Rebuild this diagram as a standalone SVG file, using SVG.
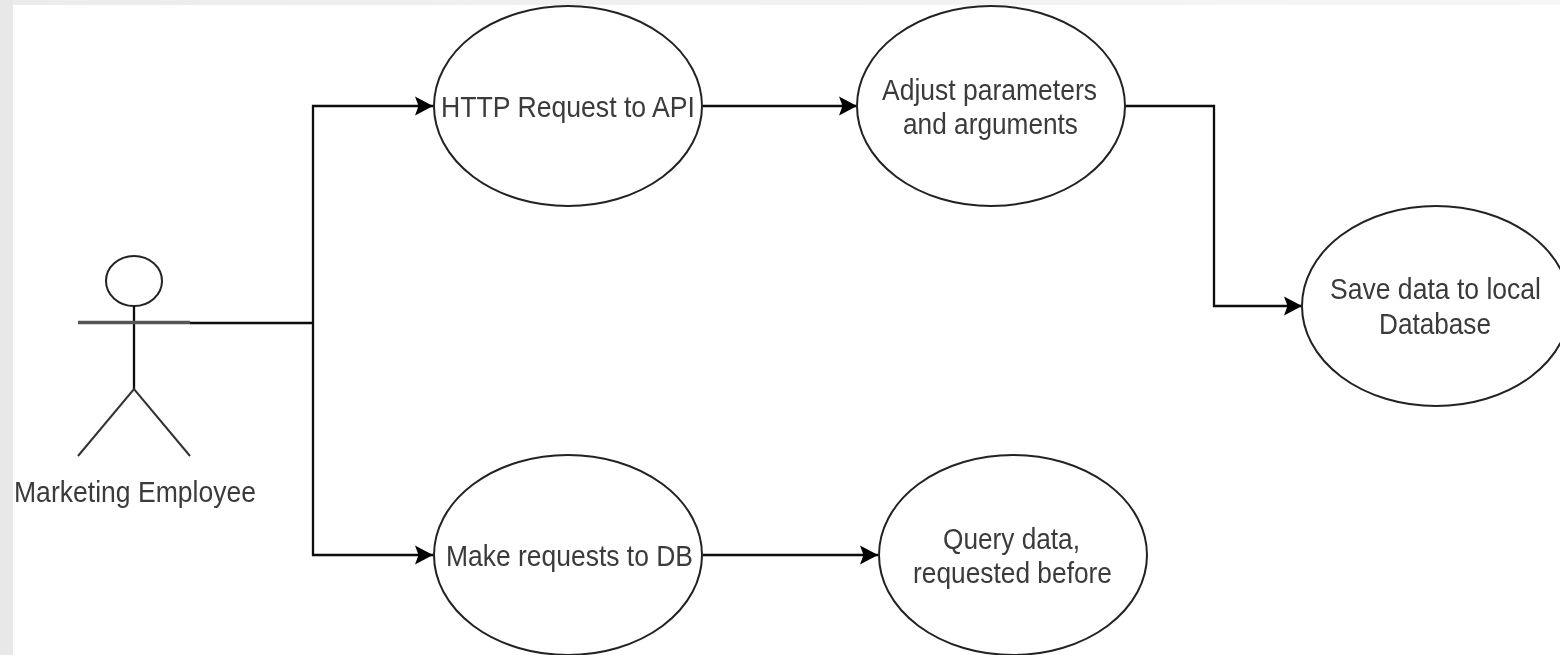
<svg xmlns="http://www.w3.org/2000/svg" width="1560" height="655" viewBox="0 0 1560 655">
<defs>
<linearGradient id="top" x1="0" x2="1" y1="0" y2="0"><stop offset="0" stop-color="#ececec"/><stop offset="1" stop-color="#f6f6f6"/></linearGradient>
<filter id="soft" filterUnits="userSpaceOnUse" x="0" y="0" width="1560" height="655"><feGaussianBlur stdDeviation="0.6"/></filter>
<marker id="arrow" markerUnits="userSpaceOnUse" markerWidth="22" markerHeight="22" refX="18" refY="10" orient="auto"><path d="M0 0.500 L18 10 L0 19.500 L3.500 10 Z" fill="#000"/></marker>
</defs>
<style>
.shape{fill:#fff;stroke:#222;stroke-width:2}
.line{fill:none;stroke:#111;stroke-width:2.300}
.limb{fill:none;stroke:#333;stroke-width:2}
.arm{fill:none;stroke:#555;stroke-width:3.500}
.conn{fill:none;stroke:#111;stroke-width:2.300;marker-end:url(#arrow)}
.soft{filter:url(#soft)}
text{font-family:"Liberation Sans",Arial,sans-serif;font-size:30px;fill:#3a3a3a;text-anchor:middle}
</style>
<rect width="1560" height="655" fill="#fff"/>
<rect width="1560" height="5" fill="url(#top)"/>
<rect width="13" height="655" fill="#e8e8e8"/>
<g id="connectors" class="soft">
<path class="line" d="M190 323H313"/>
<path class="conn" d="M313 323V106H433"/>
<path class="conn" d="M313 323V555H433"/>
<path class="conn" d="M703 106H857"/>
<path class="conn" d="M1125 106H1214V306H1302"/>
<path class="conn" d="M703 555H878"/>
</g>
<g id="actor" class="soft">
<ellipse class="shape" cx="134" cy="281" rx="28" ry="25"/>
<path class="line" d="M134 306V389"/>
<path class="arm" d="M78 322.500H190"/>
<path class="limb" d="M78 456L134 389L190 456"/>
<text x="135" y="502" textLength="242" lengthAdjust="spacingAndGlyphs">Marketing Employee</text>
</g>
<g id="http-request" class="soft"><ellipse class="shape" cx="568" cy="106" rx="134" ry="100"/><text x="568" y="117" textLength="254" lengthAdjust="spacingAndGlyphs">HTTP Request to API</text></g>
<g id="adjust" class="soft"><ellipse class="shape" cx="991" cy="106" rx="134" ry="100"/><text x="989.500" y="100" textLength="215" lengthAdjust="spacingAndGlyphs">Adjust parameters</text><text x="990.500" y="134" textLength="175" lengthAdjust="spacingAndGlyphs">and arguments</text></g>
<g id="save" class="soft"><ellipse class="shape" cx="1436" cy="306" rx="134" ry="100"/><text x="1435.500" y="299" textLength="211" lengthAdjust="spacingAndGlyphs">Save data to local</text><text x="1435" y="334" textLength="112" lengthAdjust="spacingAndGlyphs">Database</text></g>
<g id="make-requests" class="soft"><ellipse class="shape" cx="568" cy="555" rx="134" ry="100"/><text x="569.500" y="566" textLength="247" lengthAdjust="spacingAndGlyphs">Make requests to DB</text></g>
<g id="query" class="soft"><ellipse class="shape" cx="1013" cy="555" rx="134" ry="100"/><text x="1011.500" y="549" textLength="137" lengthAdjust="spacingAndGlyphs">Query data,</text><text x="1012.500" y="583" textLength="199" lengthAdjust="spacingAndGlyphs">requested before</text></g>
</svg>
